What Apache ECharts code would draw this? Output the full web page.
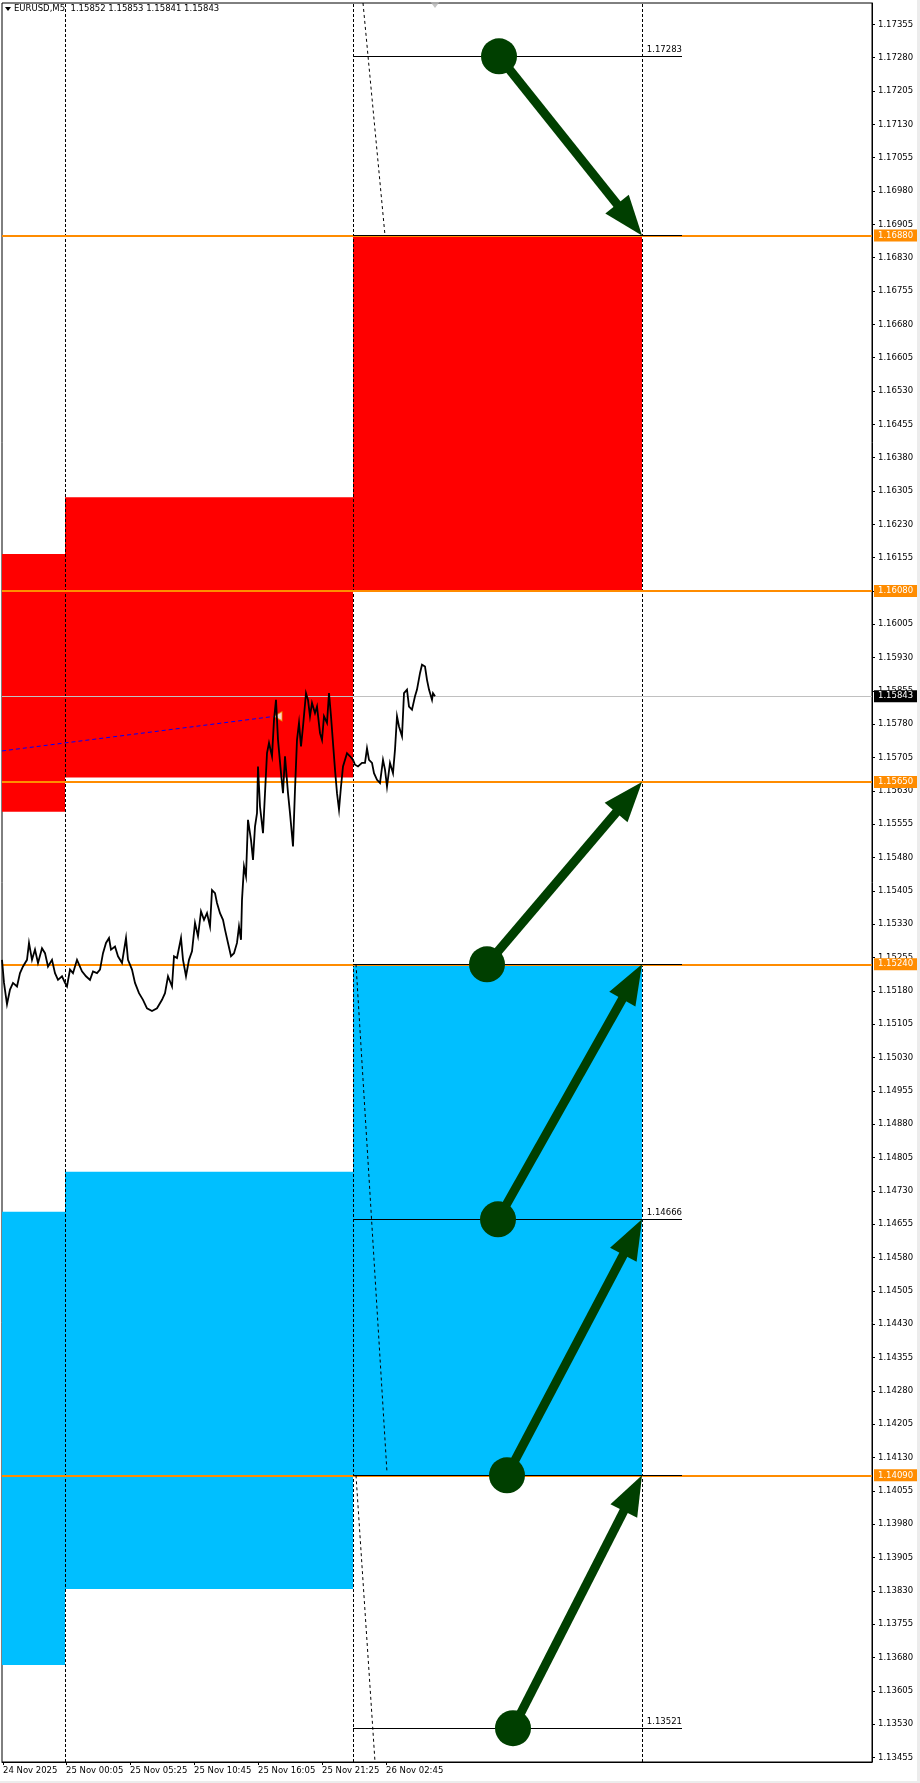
<!DOCTYPE html>
<html><head><meta charset="utf-8">
<script src="https://cdn.jsdelivr.net/npm/echarts@6/dist/echarts.min.js"></script>
<style>html,body{margin:0;padding:0;background:#fff}#c{width:920px;height:1783px}</style>
</head><body><div id="c"></div>
<script>
// ---------- data ----------
const headerText = 'EURUSD,M5  1.15852 1.15853 1.15841 1.15843';
const xTickIdx = [-62, 1, 65, 129, 193, 257, 321];           // bar index (0 = 25 Nov 00:00, M5 bars)
const xTickLabels = ['24 Nov 2025','25 Nov 00:05','25 Nov 05:25','25 Nov 10:45','25 Nov 16:05','25 Nov 21:25','26 Nov 02:45'];
const yTickValues = [1.13455,1.13530,1.13605,1.13680,1.13755,1.13830,1.13905,1.13980,1.14055,1.14130,
  1.14205,1.14280,1.14355,1.14430,1.14505,1.14580,1.14655,1.14730,1.14805,1.14880,
  1.14955,1.15030,1.15105,1.15180,1.15255,1.15330,1.15405,1.15480,1.15555,1.15630,
  1.15705,1.15780,1.15855,1.15930,1.16005,1.16080,1.16155,1.16230,1.16305,1.16380,
  1.16455,1.16530,1.16605,1.16680,1.16755,1.16830,1.16905,1.16980,1.17055,1.17130,
  1.17205,1.17280,1.17355];
const xRange = [-63, 807];
const yRange = [1.13445, 1.17403];
const daySeparators = [0, 288, 577];
const priceLevels = [1.16880, 1.16080, 1.15650, 1.15240, 1.14090];
const currentPrice = 1.15843;
// zones: [fromIdx, toIdx, top, bottom]
const redZones = [[-63, 0, 1.16163, 1.15583], [0, 288, 1.16291, 1.15660], [288, 577, 1.16880, 1.16080]];
const blueZones = [[-63, 0, 1.14683, 1.13663], [0, 288, 1.14773, 1.13834], [288, 577, 1.15240, 1.14090]];
const targetLines = [1.17283, 1.16880, 1.15240, 1.14666, 1.14090, 1.13521];
const targetLabelled = [1.17283, 1.14666, 1.13521];
const targetSpan = [288, 617];
const slantLines = [[[298, 1.17403], [320, 1.16880]], [[291, 1.15240], [322, 1.14096]], [[291, 1.14090], [310, 1.13445]]];
const trendLine = [[-63, 1.15720], [210, 1.15798]];
const trendMarker = [213, 1.15798];
const shiftMarker = [370, 1.17403];
// arrows: [startIdx, startPrice, endIdx, endPrice]
const arrows = [[434, 1.17283, 577, 1.16880], [422, 1.15240, 577, 1.15650], [433, 1.14666, 577, 1.15240],
  [442, 1.14090, 577, 1.14666], [448, 1.13521, 577, 1.14090]];
const priceIdx = [-63,-61,-58,-55,-52,-48,-45,-42,-38,-36,
  -33,-30,-27,-23,-20,-17,-13,-10,-7,-3,
  0,2,5,8,12,17,21,25,28,32,
  35,38,41,44,46,50,53,57,61,63,
  67,70,74,78,82,87,92,97,100,103,
  107,109,112,116,118,121,124,127,130,133,
  136,139,142,145,147,150,152,155,158,160,
  163,166,169,172,174,176,177,179,181,183,
  186,188,190,192,193,195,198,200,202,204,
  207,209,211,213,216,218,220,223,225,228,
  230,232,234,236,238,241,243,245,247,250,
  252,255,257,259,262,264,266,268,270,272,
  274,276,278,282,285,288,290,293,297,300,
  302,304,307,309,312,315,318,320,322,325,
  328,330,332,334,337,339,342,344,347,350,
  352,355,357,360,362,364,367,368,370];
const priceVals = [1.15250,1.15198,1.15150,1.15183,1.15198,1.15190,1.15220,1.15235,1.15250,1.15288,
  1.15250,1.15273,1.15243,1.15276,1.15265,1.15235,1.15250,1.15220,1.15205,1.15213,
  1.15198,1.15190,1.15228,1.15220,1.15250,1.15224,1.15213,1.15205,1.15224,1.15220,
  1.15228,1.15265,1.15288,1.15299,1.15273,1.15280,1.15258,1.15243,1.15299,1.15250,
  1.15228,1.15198,1.15175,1.15160,1.15141,1.15135,1.15141,1.15160,1.15175,1.15213,
  1.15190,1.15258,1.15254,1.15299,1.15250,1.15213,1.15250,1.15269,1.15333,1.15303,
  1.15359,1.15340,1.15355,1.15325,1.15407,1.15400,1.15378,1.15355,1.15340,1.15318,
  1.15288,1.15258,1.15265,1.15288,1.15325,1.15295,1.15385,1.15460,1.15438,1.15565,
  1.15520,1.15475,1.15550,1.15580,1.15685,1.15595,1.15535,1.15625,1.15715,1.15738,
  1.15708,1.15790,1.15835,1.15745,1.15670,1.15625,1.15708,1.15625,1.15580,1.15505,
  1.15633,1.15745,1.15783,1.15730,1.15775,1.15850,1.15835,1.15798,1.15828,1.15805,
  1.15820,1.15760,1.15745,1.15798,1.15783,1.15850,1.15798,1.15738,1.15678,1.15625,
  1.15588,1.15640,1.15685,1.15715,1.15708,1.15700,1.15689,1.15685,1.15693,1.15693,
  1.15726,1.15700,1.15693,1.15670,1.15655,1.15648,1.15700,1.15678,1.15640,1.15693,
  1.15670,1.15723,1.15798,1.15775,1.15753,1.15850,1.15858,1.15820,1.15813,1.15843,
  1.15858,1.15895,1.15914,1.15910,1.15880,1.15858,1.15835,1.15850,1.15843];

// ---------- styles ----------
const FONT = 'DejaVu Sans';
const FS = 8.5;
const RED = '#FF0000', BLUE = '#00BFFF', ORANGE = '#FF8C00', GREEN = '#003F00';

function renderBox(params, api) {
  const p1 = api.coord([api.value(0), api.value(2)]);
  const p2 = api.coord([api.value(1), api.value(3)]);
  return { type: 'rect', shape: { x: p1[0], y: p1[1], width: p2[0] - p1[0], height: p2[1] - p1[1] },
    style: { fill: api.visual('color') } };
}
function renderArrow(params, api) {
  const s = api.coord([api.value(0), api.value(1)]);
  const e = api.coord([api.value(2), api.value(3)]);
  const dx = e[0] - s[0], dy = e[1] - s[1];
  const len = Math.hypot(dx, dy), ux = dx / len, uy = dy / len;
  const headLen = 40, headW = 15;
  const bx = e[0] - ux * headLen, by = e[1] - uy * headLen;
  return { type: 'group', children: [
    { type: 'line', shape: { x1: s[0], y1: s[1], x2: bx + ux * 3, y2: by + uy * 3 }, style: { stroke: GREEN, lineWidth: 9 } },
    { type: 'polygon', shape: { points: [[e[0], e[1]], [bx - uy * headW, by + ux * headW], [bx + uy * headW, by - ux * headW]] }, style: { fill: GREEN } },
    { type: 'circle', shape: { cx: s[0], cy: s[1], r: 18 }, style: { fill: GREEN } }
  ] };
}

const chart = echarts.init(document.getElementById('c'), null, { renderer: 'canvas' });
const lblBase = { fontFamily: FONT, fontSize: FS };
const fmt5 = p => Number(p.value).toFixed(5);

chart.setOption({
  animation: false,
  backgroundColor: '#fff',
  grid: { left: 2, right: 48, top: 3, bottom: 21, show: true, borderColor: '#000', borderWidth: 1, backgroundColor: 'transparent' },
  xAxis: {
    type: 'value', min: xRange[0], max: xRange[1],
    axisLine: { show: true, onZero: false, lineStyle: { color: '#000', width: 1 } },
    axisTick: { show: true, length: 3, customValues: xTickIdx, lineStyle: { color: '#000' } },
    axisLabel: { customValues: xTickIdx, align: 'left', margin: 4, color: '#000', ...lblBase,
      formatter: v => xTickLabels[xTickIdx.indexOf(Math.round(v))] || '' },
    splitLine: { show: false }
  },
  yAxis: {
    type: 'value', position: 'right', min: yRange[0], max: yRange[1], scale: true,
    axisLine: { show: true, onZero: false, lineStyle: { color: '#000', width: 1 } },
    axisTick: { show: true, length: 3, customValues: yTickValues, lineStyle: { color: '#000' } },
    axisLabel: { customValues: yTickValues, margin: 6, color: '#000', ...lblBase, formatter: v => v.toFixed(5) },
    splitLine: { show: false }
  },
  graphic: [
    { type: 'polygon', shape: { points: [[5, 7], [11, 7], [8, 11]] }, style: { fill: '#000' }, z: 100 },
    { type: 'text', left: 14, top: 4, style: { text: headerText, font: FS + 'px ' + FONT, fill: '#000' }, z: 100 },
    { type: 'rect', shape: { x: 917, y: 0, width: 3, height: 1783 }, style: { fill: '#ececec' }, z: 100 },
    { type: 'rect', shape: { x: 0, y: 1781, width: 920, height: 2 }, style: { fill: '#ececec' }, z: 100 }
  ],
  series: [
    { // day separators
      type: 'scatter', data: [], z: 1, silent: true,
      markLine: { silent: true, symbol: 'none', precision: 5, label: { show: false },
        lineStyle: { color: '#000', width: 1, type: [3, 2] },
        data: daySeparators.map(v => ({ xAxis: v })) }
    },
    { type: 'custom', name: 'red', z: 2, silent: true, renderItem: renderBox, itemStyle: { color: RED },
      encode: { x: [0, 1], y: [2, 3] }, data: redZones },
    { type: 'custom', name: 'blue', z: 2, silent: true, renderItem: renderBox, itemStyle: { color: BLUE },
      encode: { x: [0, 1], y: [2, 3] }, data: blueZones },
    { // current price
      type: 'scatter', data: [], z: 3, silent: true,
      markLine: { silent: true, symbol: 'none', precision: 5,
        lineStyle: { color: '#C0C0C0', width: 1, type: 'solid' },
        label: { show: true, position: 'end', distance: 2, color: '#fff', backgroundColor: '#000', padding: [2, 4, 1, 4], ...lblBase,
          formatter: fmt5 },
        data: [{ yAxis: currentPrice }] }
    },
    { // orange levels
      type: 'scatter', data: [], z: 4, silent: true,
      markLine: { silent: true, symbol: 'none', precision: 5,
        lineStyle: { color: ORANGE, width: 2, type: 'solid' },
        label: { show: true, position: 'end', distance: 2, color: '#fff', backgroundColor: ORANGE, padding: [2, 4, 1, 4], ...lblBase,
          formatter: fmt5 },
        data: priceLevels.map(v => ({ yAxis: v })) }
    },
    { // target lines
      type: 'scatter', data: [], z: 5, silent: true,
      markLine: { silent: true, symbol: 'none', precision: 5,
        lineStyle: { color: '#000', width: 1, type: 'solid' },
        data: targetLines.map(v => [
          { coord: [targetSpan[0], v], label: { show: targetLabelled.includes(v), position: 'insideEndTop', distance: [0, 2],
            color: '#000', ...lblBase, formatter: v.toFixed(5) } },
          { coord: [targetSpan[1], v] }]) }
    },
    { // slanted dashed
      type: 'scatter', data: [], z: 5, silent: true,
      markLine: { silent: true, symbol: 'none', precision: 5, label: { show: false },
        lineStyle: { color: '#000', width: 1, type: [3, 3] },
        data: slantLines.map(l => [{ coord: l[0] }, { coord: l[1] }]) }
    },
    { // blue dashed trend
      type: 'scatter', data: [trendMarker], z: 6, silent: true,
      symbol: 'triangle', symbolRotate: 90, symbolSize: [9, 8],
      itemStyle: { color: '#fff', borderColor: '#E6A000', borderWidth: 1 },
      markLine: { silent: true, symbol: 'none', precision: 5, label: { show: false },
        lineStyle: { color: '#0000FF', width: 1, type: [4, 3] },
        data: [[{ coord: trendLine[0] }, { coord: trendLine[1] }]] }
    },
    { // price path
      type: 'line', z: 7, silent: true, showSymbol: false, symbol: 'none',
      lineStyle: { color: '#000', width: 1.8, join: 'miter' },
      data: priceIdx.map((x, i) => [x, priceVals[i]])
    },
    { // chart shift marker
      type: 'scatter', z: 7, silent: true, clip: false, data: [shiftMarker],
      symbol: 'triangle', symbolRotate: 180, symbolSize: [9, 6], symbolOffset: [0, 2], itemStyle: { color: '#B4B4B4' }
    },
    { // arrows
      type: 'custom', z: 8, silent: true, renderItem: renderArrow,
      encode: { x: [0, 2], y: [1, 3] }, data: arrows
    }
  ]
});
</script></body></html>
